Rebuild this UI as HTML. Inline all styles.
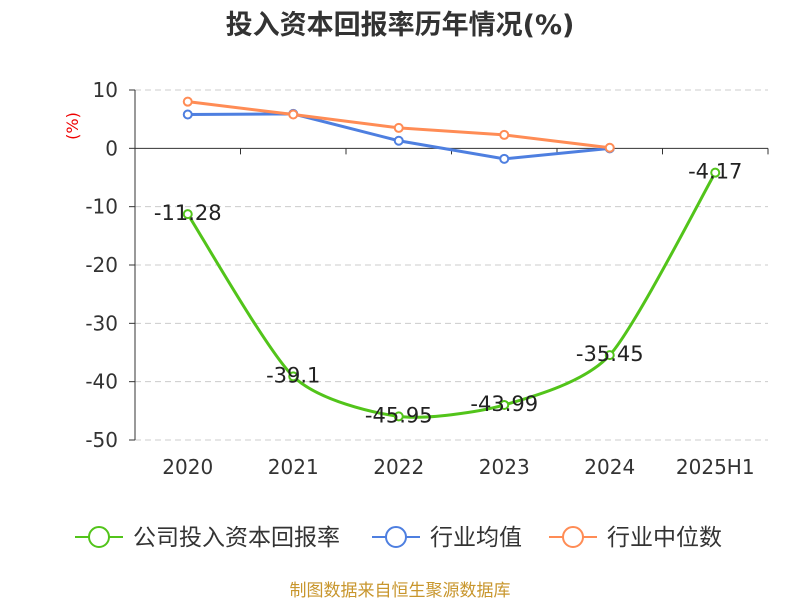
<!DOCTYPE html>
<html><head><meta charset="utf-8"><style>
body{margin:0;background:#fff;}
svg{display:block;font-family:"DejaVu Sans","Noto Sans CJK SC",sans-serif;}
</style></head><body>
<svg id="chart" width="800" height="600">
<text x="400" y="34" text-anchor="middle" font-size="27" font-weight="bold" fill="#333">投入资本回报率历年情况(%)</text>
<text transform="translate(78,126) rotate(-90)" text-anchor="middle" font-size="16" fill="#e00">(%)</text>
<g id="grid"></g><g id="series"></g>
<g>
<g><line x1="75" y1="537" x2="123" y2="537" stroke="#52c41a" stroke-width="2"/><circle cx="99" cy="537" r="10" fill="#fff" stroke="#52c41a" stroke-width="2"/><text x="133" y="545" font-size="23" fill="#333">公司投入资本回报率</text></g>
<g><line x1="372" y1="537" x2="420" y2="537" stroke="#4e7fe0" stroke-width="2"/><circle cx="396" cy="537" r="10" fill="#fff" stroke="#4e7fe0" stroke-width="2"/><text x="430" y="545" font-size="23" fill="#333">行业均值</text></g>
<g><line x1="549" y1="537" x2="597" y2="537" stroke="#ff8c55" stroke-width="2"/><circle cx="573" cy="537" r="10" fill="#fff" stroke="#ff8c55" stroke-width="2"/><text x="607" y="545" font-size="23" fill="#333">行业中位数</text></g>
</g>
<text x="400" y="596" text-anchor="middle" font-size="17" fill="#c8962d">制图数据来自恒生聚源数据库</text>
</svg>
<script>
const categories=["2020","2021","2022","2023","2024","2025H1"];
const companyValues=[-11.28,-39.1,-45.95,-43.99,-35.45,-4.17];
const meanValues=[5.8,5.9,1.3,-1.8,0];
const medianValues=[8.0,5.8,3.5,2.3,0.1];
const yTicks=[10,0,-10,-20,-30,-40,-50];
const NS="http://www.w3.org/2000/svg";
const x0=135,x1=768,yTop=90,yBot=440,vMax=10,vMin=-50;
const bw=(x1-x0)/categories.length;
const xs=i=>x0+bw*(i+0.5);
const ys=v=>yTop+(vMax-v)/(vMax-vMin)*(yBot-yTop);
function mk(tag,attrs,parent){const e=document.createElementNS(NS,tag);for(const k in attrs)e.setAttribute(k,attrs[k]);parent.appendChild(e);return e;}
const grid=document.getElementById('grid'),ser=document.getElementById('series');
yTicks.forEach(t=>{
 const y=ys(t);
 if(t!==0){const l=mk('line',{x1:x0,x2:x1,y1:y,y2:y,stroke:'#ccc','stroke-dasharray':'6,4'},grid);
 
 }
 const tx=mk('text',{x:118,y:y+7,'text-anchor':'end','font-size':20,fill:'#333'},grid);tx.textContent=t;
 
 
});
const ya=mk('line',{x1:x0,x2:x0,y1:yTop,y2:yBot,stroke:'#333'},grid);


const xa=mk('line',{x1:x0,x2:x1,y1:ys(0),y2:ys(0),stroke:'#333'},grid);


for(let i=0;i<=categories.length;i++){mk('line',{x1:x0+bw*i,x2:x0+bw*i,y1:ys(0),y2:ys(0)+6,stroke:'#333'},grid);}
yTicks.forEach(t=>mk('line',{x1:x0-6,x2:x0,y1:ys(t),y2:ys(t),stroke:'#333'},grid));
categories.forEach((c,i)=>{const t=mk('text',{x:xs(i),y:474,'text-anchor':'middle','font-size':20,fill:'#333'},grid);t.textContent=c;
 
 });
function path(vals,smooth){
 const p=vals.map((v,i)=>[xs(i),ys(v)]);
 let d='M'+p[0][0]+','+p[0][1];
 for(let i=0;i<p.length-1;i++){
  if(!smooth){d+=' L'+p[i+1][0]+','+p[i+1][1];continue;}
  const a=p[i-1]||p[i],b=p[i],c=p[i+1],e=p[i+2]||c,k=0.12;
  d+=` C${b[0]+(c[0]-a[0])*k},${b[1]+(c[1]-a[1])*k} ${c[0]-(e[0]-b[0])*k},${c[1]-(e[1]-b[1])*k} ${c[0]},${c[1]}`;
 }return d;}
function series(vals,color,name,smooth,labels){
 const g=mk('g',{},ser);
 
 
 mk('path',{d:path(vals,smooth),fill:'none',stroke:color,'stroke-width':3},g);
 vals.forEach((v,i)=>{const c=mk('circle',{cx:xs(i),cy:ys(v),r:4,fill:'#fff',stroke:color,'stroke-width':2},g);
  
  
  if(labels){const t=mk('text',{x:xs(i),y:ys(v)+6,'text-anchor':'middle','font-size':21,fill:'#222'},g);t.textContent=v;
   
   }
 });}
series(meanValues,'#4e7fe0','industry-mean-line',false,false);
series(medianValues,'#ff8c55','industry-median-line',false,false);
series(companyValues,'#52c41a','company-line',true,true);
</script>
</body></html>
